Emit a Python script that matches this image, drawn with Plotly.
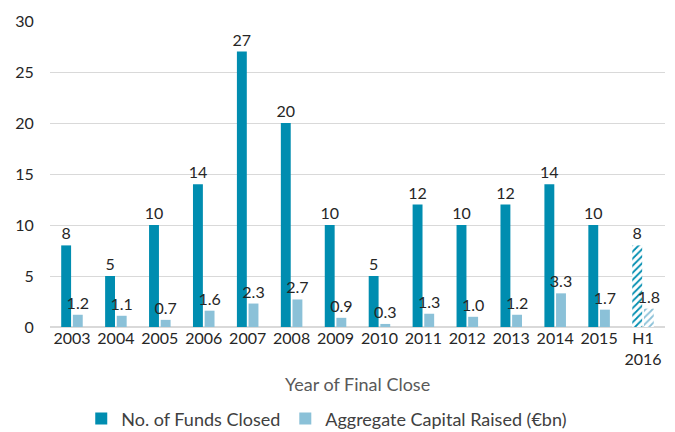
import plotly.graph_objects as go

years = ["2003", "2004", "2005", "2006", "2007", "2008", "2009", "2010",
         "2011", "2012", "2013", "2014", "2015", "H1<br>2016"]
funds_closed = [8, 5, 10, 14, 27, 20, 10, 5, 12, 10, 12, 14, 10, 8]
capital_raised = [1.2, 1.1, 0.7, 1.6, 2.3, 2.7, 0.9, 0.3, 1.3, 1.0, 1.2, 3.3, 1.7, 1.8]
capital_labels = ["1.2", "1.1", "0.7", "1.6", "2.3", "2.7", "0.9", "0.3",
                  "1.3", "1.0", "1.2", "3.3", "1.7", "1.8"]

DARK = "#008DB0"
LIGHT = "#8BC1D8"
FONT = "Lato"

# last category is a half-year, drawn hatched
shapes = [""] * (len(years) - 1) + ["/"]

fig = go.Figure()

fig.add_trace(go.Bar(
    x=years, y=funds_closed, name="No. of Funds Closed",
    marker=dict(color=DARK, line=dict(width=0),
                pattern=dict(shape=shapes, fgcolor=DARK, bgcolor="white",
                             size=5, solidity=0.35, fillmode="replace")),
    text=funds_closed, textposition="outside", cliponaxis=False,
    textfont=dict(size=16, color="#262626"),
))

fig.add_trace(go.Bar(
    x=years, y=capital_raised, name="Aggregate Capital Raised (€bn)",
    marker=dict(color=LIGHT, line=dict(width=0),
                pattern=dict(shape=shapes, fgcolor=LIGHT, bgcolor="white",
                             size=5, solidity=0.35, fillmode="replace")),
    text=capital_labels, textposition="outside", cliponaxis=False,
    textfont=dict(size=16, color="#262626"),
))

fig.update_layout(
    width=675, height=432,
    margin=dict(l=50, r=10, t=21, b=105, autoexpand=False),
    paper_bgcolor="white", plot_bgcolor="white",
    font=dict(family=FONT, size=16, color="#262626"),
    barmode="group", bargap=0.47, bargroupgap=0.15,
    uniformtext=dict(minsize=16, mode="show"),
    showlegend=True,
    legend=dict(orientation="h", x=0.45, xanchor="center",
                y=-0.30, yanchor="middle", font=dict(size=18, color="#404040"),
                traceorder="normal"),
    annotations=[dict(text="Year of Final Close", xref="paper", yref="paper",
                      x=0.5, y=-0.186, showarrow=False, yanchor="middle",
                      font=dict(size=18, color="#595959"))],
)

fig.update_xaxes(showgrid=False, showline=False, ticks="", tickangle=0,
                 tickfont=dict(size=16), automargin=False)
fig.update_yaxes(range=[0, 30], dtick=5, showgrid=True, gridcolor="#D9D9D9",
                 gridwidth=1, zeroline=True, zerolinecolor="#D9D9D9",
                 ticks="outside", ticklen=12, tickcolor="white",
                 tickfont=dict(size=16), automargin=False)

# drop the page's default body margin so the figure sits at the window's corner
fig.write_html("out.html", config={"displayModeBar": False},
               post_script="document.body.style.margin='0px';")
